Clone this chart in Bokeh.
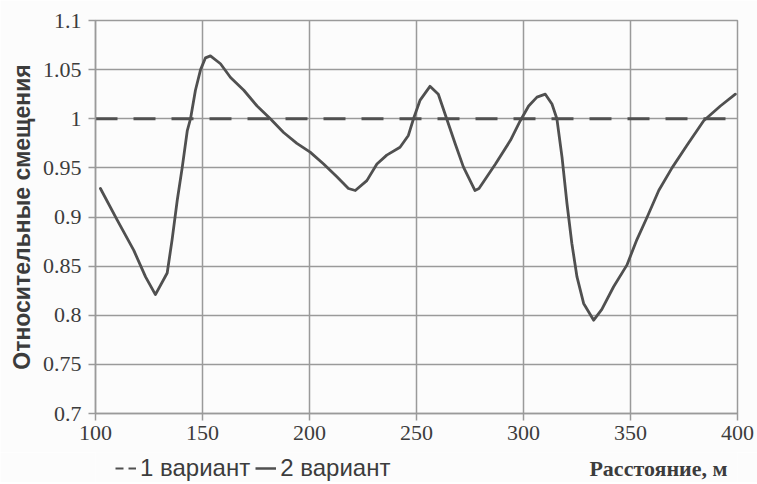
from bokeh.plotting import figure
from bokeh.layouts import column
from bokeh.models import Range1d, FixedTicker, Legend, LegendItem, Label
from bokeh.embed import file_html
from bokeh.resources import INLINE

# ---- data ----
x_ticks = [100, 150, 200, 250, 300, 350, 400]
x_tick_labels = ["100", "150", "200", "250", "300", "350", "400"]
y_ticks = [0.7, 0.75, 0.8, 0.85, 0.9, 0.95, 1.0, 1.05, 1.1]
y_tick_labels = ["0.7", "0.75", "0.8", "0.85", "0.9", "0.95", "1", "1.05", "1.1"]

series1_name = "1 вариант"
series1_x = [100, 400]
series1_y = [1.0, 1.0]

series2_name = "2 вариант"
series2_x = [102.3, 110.1, 117.9, 123.4, 128.0, 133.5, 135.8, 138.2, 140.5, 142.9,
             144.4, 146.7, 149.1, 151.4, 153.7, 158.4, 163.1, 169.3, 175.5, 181.7,
             187.9, 194.1, 200.3, 206.6, 212.8, 218.2, 221.4, 226.8, 231.5, 236.1,
             242.3, 246.2, 248.6, 251.7, 256.3, 260.2, 264.1, 268.0, 271.9, 277.3,
             279.2, 286.9, 293.9, 298.5, 302.4, 306.3, 310.2, 313.3, 315.6, 318.0,
             320.3, 322.6, 325.0, 328.1, 332.8, 336.6, 342.1, 348.3, 353.0, 357.8,
             363.2, 369.4, 376.4, 384.2, 392.0, 399.0]
series2_y = [0.929, 0.897, 0.866, 0.839, 0.821, 0.843, 0.877, 0.917, 0.950, 0.988,
             1.000, 1.029, 1.050, 1.062, 1.064, 1.056, 1.042, 1.029, 1.013, 1.000,
             0.986, 0.975, 0.966, 0.954, 0.941, 0.929, 0.927, 0.937, 0.954, 0.963,
             0.971, 0.983, 1.000, 1.019, 1.033, 1.025, 1.000, 0.975, 0.951, 0.927,
             0.929, 0.954, 0.978, 0.998, 1.013, 1.022, 1.025, 1.015, 1.000, 0.961,
             0.914, 0.873, 0.839, 0.812, 0.795, 0.806, 0.829, 0.851, 0.877, 0.900,
             0.927, 0.950, 0.973, 0.998, 1.013, 1.025]

x_title = "Расстояние, м"
y_title = "Относительные смещения"

# ---- styles ----
LINE_COLOR = "#505050"
GRID_COLOR = "#9a9a9a"
TEXT_COLOR = "#3c3c3c"
BG = "#fcfcfc"
W = 757

p = figure(width=W, height=452, output_backend="svg", toolbar_location=None,
           x_range=Range1d(100, 400), y_range=Range1d(0.7, 1.1),
           min_border_left=95, min_border_right=20, min_border_top=20, min_border_bottom=39,
           background_fill_color=BG, border_fill_color=BG)

p.outline_line_color = GRID_COLOR
p.outline_line_width = 1.5

p.xaxis.ticker = FixedTicker(ticks=x_ticks)
p.yaxis.ticker = FixedTicker(ticks=y_ticks)
p.xaxis.major_label_overrides = {float(v): s for v, s in zip(x_ticks, x_tick_labels)}
p.yaxis.major_label_overrides = {float(v): s for v, s in zip(y_ticks, y_tick_labels)}

for ax in (p.xaxis[0], p.yaxis[0]):
    ax.axis_line_color = GRID_COLOR
    ax.axis_line_width = 1.5
    ax.major_tick_line_color = GRID_COLOR
    ax.major_tick_line_width = 1.5
    ax.major_tick_in = 0
    ax.major_tick_out = 7
    ax.minor_tick_line_color = None
    ax.major_label_text_font = "Liberation Serif"
    ax.major_label_text_font_size = "22px"
    ax.major_label_text_color = TEXT_COLOR

p.xaxis.major_label_standoff = 5
p.yaxis.major_label_standoff = 7

p.yaxis.axis_label = y_title
p.yaxis.axis_label_text_font = "Liberation Sans"
p.yaxis.axis_label_text_font_style = "bold"
p.yaxis.axis_label_text_font_size = "23px"
p.yaxis.axis_label_text_color = TEXT_COLOR
p.yaxis.axis_label_standoff = 5

for g in (p.xgrid[0], p.ygrid[0]):
    g.grid_line_color = GRID_COLOR
    g.grid_line_width = 1.5

r1 = p.line(series1_x, series1_y, line_color=LINE_COLOR, line_width=3, line_dash="22 16")
r2 = p.line(series2_x, series2_y, line_color=LINE_COLOR, line_width=2.8,
            line_join="round", line_cap="round")

# ---- bottom strip: key and x-axis title (frame-aligned pixel coordinates) ----
q = figure(width=W, height=30, output_backend="svg", toolbar_location=None,
           x_range=Range1d(0, 642), y_range=Range1d(0, 30),
           min_border=0, background_fill_color=BG, border_fill_color=BG)
q.axis.visible = False
q.grid.visible = False
q.outline_line_color = None

# key swatches: same series, hidden in the strip, shown only in the key
k1 = q.line(series1_x, series1_y, line_color=LINE_COLOR, line_width=2, line_dash="8 5",
            visible=False)
k2 = q.line(series2_x, series2_y, line_color=LINE_COLOR, line_width=2.5, visible=False)

legend = Legend(items=[LegendItem(label=series1_name, renderers=[k1]),
                       LegendItem(label=series2_name, renderers=[k2])],
                orientation="horizontal", location=(20, 0),
                label_text_font="Liberation Sans", label_text_font_size="24px",
                label_text_color=TEXT_COLOR, glyph_width=21, glyph_height=20,
                label_standoff=4, spacing=5, padding=0, margin=0,
                inactive_fill_alpha=0,
                border_line_color=None, background_fill_alpha=0)
q.add_layout(legend, "center")

q.add_layout(Label(x=632, y=14, text=x_title, text_align="right", text_baseline="middle",
                   text_font="Liberation Serif", text_font_style="bold",
                   text_font_size="22px", text_color=TEXT_COLOR))

layout = column(p, q, spacing=0)
open("out.html", "w").write(file_html(layout, INLINE))
